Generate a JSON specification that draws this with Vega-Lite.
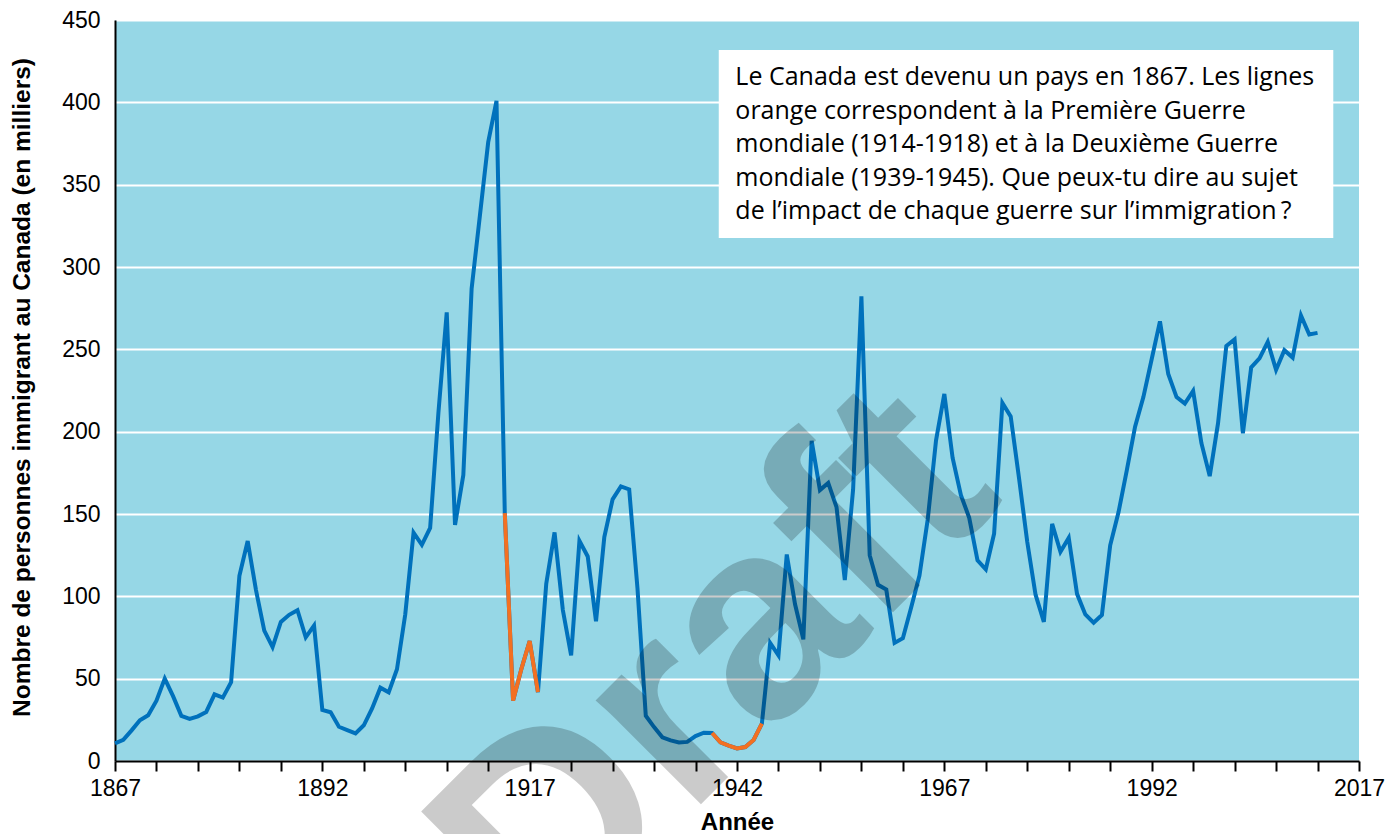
{
  "$schema": "https://vega.github.io/schema/vega-lite/v6.json",
  "width": 1244,
  "height": 741,
  "autosize": {"type": "none"},
  "padding": {"left": 115, "top": 20, "right": 28, "bottom": 73},
  "background": "white",
  "config": {"view": {"stroke": null, "fill": "#96d7e6"}},
  "datasets": {"immig": [
    {"year":1867,"value":10.7},{"year":1868,"value":12.8},{"year":1869,"value":18.6},{"year":1870,"value":24.7},{"year":1871,"value":27.8},{"year":1872,"value":36.6},{"year":1873,"value":50.0},{"year":1874,"value":39.4},{"year":1875,"value":27.4},{"year":1876,"value":25.6},{"year":1877,"value":27.1},{"year":1878,"value":29.8},{"year":1879,"value":40.5},{"year":1880,"value":38.5},{"year":1881,"value":47.9},{"year":1882,"value":112.5},{"year":1883,"value":133.6},{"year":1884,"value":103.8},{"year":1885,"value":79.2},{"year":1886,"value":69.2},{"year":1887,"value":84.5},{"year":1888,"value":88.8},{"year":1889,"value":91.6},{"year":1890,"value":75.1},{"year":1891,"value":82.2},{"year":1892,"value":31.0},{"year":1893,"value":29.6},{"year":1894,"value":20.8},{"year":1895,"value":18.8},{"year":1896,"value":16.8},{"year":1897,"value":21.7},{"year":1898,"value":31.9},{"year":1899,"value":44.5},{"year":1900,"value":41.7},{"year":1901,"value":55.7},{"year":1902,"value":89.1},{"year":1903,"value":138.7},{"year":1904,"value":131.3},{"year":1905,"value":141.5},{"year":1906,"value":211.7},{"year":1907,"value":272.4},{"year":1908,"value":143.3},{"year":1909,"value":173.7},{"year":1910,"value":286.8},{"year":1911,"value":331.3},{"year":1912,"value":375.8},{"year":1913,"value":400.9},{"year":1914,"value":150.5},{"year":1915,"value":36.7},{"year":1916,"value":55.9},{"year":1917,"value":72.9},{"year":1918,"value":41.8},{"year":1919,"value":107.7},{"year":1920,"value":138.8},{"year":1921,"value":91.7},{"year":1922,"value":64.2},{"year":1923,"value":133.7},{"year":1924,"value":124.2},{"year":1925,"value":84.9},{"year":1926,"value":136.0},{"year":1927,"value":158.9},{"year":1928,"value":166.8},{"year":1929,"value":164.9},{"year":1930,"value":104.8},{"year":1931,"value":27.5},{"year":1932,"value":20.6},{"year":1933,"value":14.4},{"year":1934,"value":12.5},{"year":1935,"value":11.3},{"year":1936,"value":11.6},{"year":1937,"value":15.1},{"year":1938,"value":17.2},{"year":1939,"value":17.0},{"year":1940,"value":11.3},{"year":1941,"value":9.3},{"year":1942,"value":7.6},{"year":1943,"value":8.5},{"year":1944,"value":12.8},{"year":1945,"value":22.7},{"year":1946,"value":71.7},{"year":1947,"value":64.1},{"year":1948,"value":125.4},{"year":1949,"value":95.2},{"year":1950,"value":73.9},{"year":1951,"value":194.4},{"year":1952,"value":164.5},{"year":1953,"value":168.9},{"year":1954,"value":154.2},{"year":1955,"value":109.9},{"year":1956,"value":164.9},{"year":1957,"value":282.2},{"year":1958,"value":125.0},{"year":1959,"value":107.0},{"year":1960,"value":104.1},{"year":1961,"value":71.7},{"year":1962,"value":74.6},{"year":1963,"value":93.2},{"year":1964,"value":112.6},{"year":1965,"value":146.8},{"year":1966,"value":194.7},{"year":1967,"value":222.9},{"year":1968,"value":184.0},{"year":1969,"value":161.5},{"year":1970,"value":147.7},{"year":1971,"value":121.9},{"year":1972,"value":116.4},{"year":1973,"value":138.0},{"year":1974,"value":217.5},{"year":1975,"value":209.3},{"year":1976,"value":172.0},{"year":1977,"value":133.0},{"year":1978,"value":101.0},{"year":1979,"value":84.5},{"year":1980,"value":144.0},{"year":1981,"value":127.0},{"year":1982,"value":135.5},{"year":1983,"value":101.5},{"year":1984,"value":89.0},{"year":1985,"value":84.0},{"year":1986,"value":88.7},{"year":1987,"value":131.0},{"year":1988,"value":151.0},{"year":1989,"value":176.5},{"year":1990,"value":203.0},{"year":1991,"value":221.0},{"year":1992,"value":244.0},{"year":1993,"value":267.0},{"year":1994,"value":235.0},{"year":1995,"value":221.0},{"year":1996,"value":217.0},{"year":1997,"value":224.7},{"year":1998,"value":193.0},{"year":1999,"value":173.0},{"year":2000,"value":205.0},{"year":2001,"value":252.0},{"year":2002,"value":256.0},{"year":2003,"value":199.0},{"year":2004,"value":239.0},{"year":2005,"value":244.5},{"year":2006,"value":254.5},{"year":2007,"value":237.5},{"year":2008,"value":249.5},{"year":2009,"value":245.0},{"year":2010,"value":270.6},{"year":2011,"value":259.0},{"year":2012,"value":260.0}
  ]},
  "layer": [
    {"data": {"name": "immig"},
     "mark": {"type": "line", "color": "#0071bc", "strokeWidth": 4},
     "encoding": {
      "x": {
        "field": "year", "type": "quantitative",
        "scale": {"domain": [1867, 2017], "nice": false, "zero": false},
        "axis": {
          "title": "Année",
          "values": [1867,1872,1877,1882,1887,1892,1897,1902,1907,1912,1917,1922,1927,1932,1937,1942,1947,1952,1957,1962,1967,1972,1977,1982,1987,1992,1997,2002,2007,2012,2017],
          "format": "d",
          "labelExpr": "(datum.value - 1867) % 25 === 0 ? datum.label : ''",
          "labelFlush": false, "labelOverlap": false, "grid": false,
          "tickSize": 10, "tickWidth": 2, "tickColor": "black",
          "domainColor": "black", "domainWidth": 2,
          "labelFont": "Liberation Sans", "labelFontSize": 23, "labelColor": "black", "labelPadding": 6,
          "titleFont": "Liberation Sans", "titleFontSize": 24, "titleFontWeight": "bold", "titleColor": "black",
          "titleY": 68, "titleBaseline": "alphabetic"
        }
      },
      "y": {
        "field": "value", "type": "quantitative",
        "scale": {"domain": [0, 450], "nice": false},
        "axis": {
          "title": "Nombre de personnes immigrant au Canada (en milliers)",
          "values": [0,50,100,150,200,250,300,350,400,450],
          "ticks": false, "labelPadding": 15,
          "labelFont": "Liberation Sans", "labelFontSize": 23, "labelColor": "black",
          "domainColor": "black", "domainWidth": 2,
          "grid": true, "gridColor": "white", "gridWidth": 2,
          "titleFont": "Liberation Sans", "titleFontSize": 24.5, "titleFontWeight": "bold", "titleColor": "black",
          "titleX": -93, "titleY": 367, "titleAngle": -90, "titleAlign": "center", "titleBaseline": "middle"
        }
      }
     }},
    {"data": {"name": "immig"},
     "transform": [{"filter": "datum.year >= 1914 && datum.year <= 1918"}],
     "mark": {"type": "line", "color": "#f37021", "strokeWidth": 4},
     "encoding": {"x": {"field": "year", "type": "quantitative"}, "y": {"field": "value", "type": "quantitative"}}},
    {"data": {"name": "immig"},
     "transform": [{"filter": "datum.year >= 1939 && datum.year <= 1945"}],
     "mark": {"type": "line", "color": "#f37021", "strokeWidth": 4},
     "encoding": {"x": {"field": "year", "type": "quantitative"}, "y": {"field": "value", "type": "quantitative"}}},
    {"data": {"values": [{}]},
     "mark": {"type": "rect", "color": "white"},
     "encoding": {
       "x": {"datum": 1939.8}, "x2": {"datum": 2013.9},
       "y": {"datum": 431.8}, "y2": {"datum": 317.6}
     }},
    {"data": {"values": [{}]},
     "mark": {"type": "text", "align": "left", "baseline": "alphabetic", "font": "Open Sans", "fontSize": 25, "lineHeight": 33.5, "color": "black",
       "text": ["Le Canada est devenu un pays en 1867. Les lignes", "orange correspondent à la Première Guerre", "mondiale (1914-1918) et à la Deuxième Guerre", "mondiale (1939-1945). Que peux-tu dire au sujet", "de l’impact de chaque guerre sur l’immigration\u2009?"]},
     "encoding": {
       "x": {"datum": 1941.8},
       "y": {"datum": 410.5}
     }},
    {"data": {"values": [{}]},
     "mark": {"type": "text", "text": "Draft", "align": "center", "baseline": "alphabetic", "font": "Liberation Sans", "fontWeight": "bold", "fontSize": 280, "angle": -45, "color": "black", "opacity": 0.2},
     "encoding": {
       "x": {"datum": 1946.6},
       "y": {"datum": 18.8}
     }}
  ]
}
